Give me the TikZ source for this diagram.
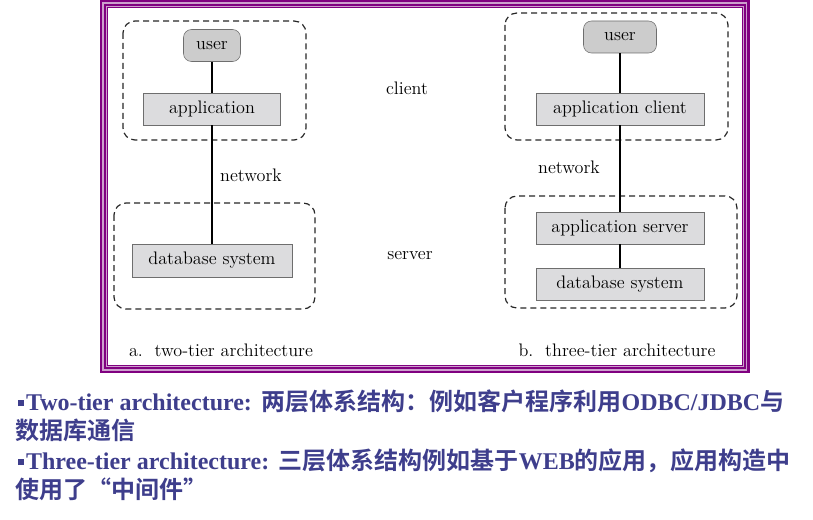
\documentclass[tikz,border=0pt]{standalone}
\usepackage{fontspec}
\newfontfamily\enfont{Liberation Serif}
\newfontfamily\zhfont{Noto Sans CJK SC}[BoldFont={Noto Sans CJK SC Bold}]
\usetikzlibrary{positioning}

\definecolor{framepurple}{RGB}{128,0,128}
\definecolor{framelight}{RGB}{205,160,205}
\definecolor{boxgray}{RGB}{220,220,222}
\definecolor{usergray}{RGB}{204,204,204}
\definecolor{edgegray}{RGB}{110,110,110}
\definecolor{noteblue}{RGB}{62,62,140}

\newcommand\figfont{\fontsize{13.6}{16}\selectfont}
\newcommand\notefont{\fontsize{18}{22}\selectfont}
\newcommand\en[1]{{\enfont\bfseries #1}}
\newcommand\zh[1]{{\zhfont\bfseries #1}}
\newcommand\blt{\rule[3pt]{4.4pt}{4.4pt}\hspace{1.8pt}}

\tikzset{
  comp/.style={draw=edgegray, fill=boxgray, inner sep=0pt, minimum height=24pt, font=\figfont},
  usr/.style={comp, fill=usergray, rounded corners=6pt},
  tierbox/.style={draw=black!85, dash pattern=on 4.5pt off 3pt, rounded corners=9pt, line width=0.9pt},
  lbl/.style={font=\figfont},
  note/.style={anchor=base west, inner sep=0pt, text=noteblue, font=\notefont}
}

\begin{document}
\begin{tikzpicture}[x=0.75pt, y=-0.75pt]

\useasboundingbox (0,0) rectangle (813,520);

% Frame
\draw[framepurple, line width=6pt] (104,4) rectangle (745.5,369);
\draw[framelight, line width=1.1pt] (103,3) rectangle (746.5,370);
\draw[framelight, line width=0.7pt] (106.2,6.2) rectangle (743.3,366.8);

% Dashed tiers
\draw[tierbox] (123,21) rectangle (306,140);
\draw[tierbox] (114,203) rectangle (315,309);
\draw[tierbox] (505,13) rectangle (728,140);
\draw[tierbox] (505,196) rectangle (737,308);

% a. two tier
\node[usr, minimum width=42.75pt] (userA) at (212,45.5) {user};
\node[comp, minimum width=102.75pt] (appA) at (212,109) {application};
\node[comp, minimum width=120pt, minimum height=24.75pt] (dbA) at (212,260.5) {database system};

% b. three tier
\node[usr, minimum width=54.75pt] (userB) at (620,37) {user};
\node[comp, minimum width=126pt] (appB) at (620,109) {application client};
\node[comp, minimum width=126pt] (srvB) at (620,228) {application server};
\node[comp, minimum width=126pt] (dbB) at (620,284) {database system};

% Links
\draw[line width=1.1pt] (userA) -- (appA) -- (dbA);
\draw[line width=1.1pt] (userB) -- (appB) -- (srvB) -- (dbB);

% Labels
\node[lbl] (client) at (407,88) {client};
\node[lbl] (server) at (410,256) {server};
\node[lbl] (netA) at (251,175) {network};
\node[lbl] (netB) at (569,167) {network};
\node[lbl] (capA) at (221,350) {a.\ \ two-tier architecture};
\node[lbl] (capB) at (617,350) {b.\ \ three-tier architecture};

% Notes
\node[note] (line1) at (17.5,410) {\blt\en{Two-tier architecture:} \zh{两层体系结构：例如客户程序利用}\en{ODBC/JDBC}\zh{与}};
\node[note] (line2) at (15,439.5) {\zh{数据库通信}};
\node[note] (line3) at (17.5,469) {\blt\en{Three-tier architecture:} \zh{三层体系结构例如基于}\en{WEB}\zh{的应用，应用构造中}};
\node[note] (line4) at (15,498.5) {\zh{使用了“中间件”}};

\end{tikzpicture}
\end{document}
